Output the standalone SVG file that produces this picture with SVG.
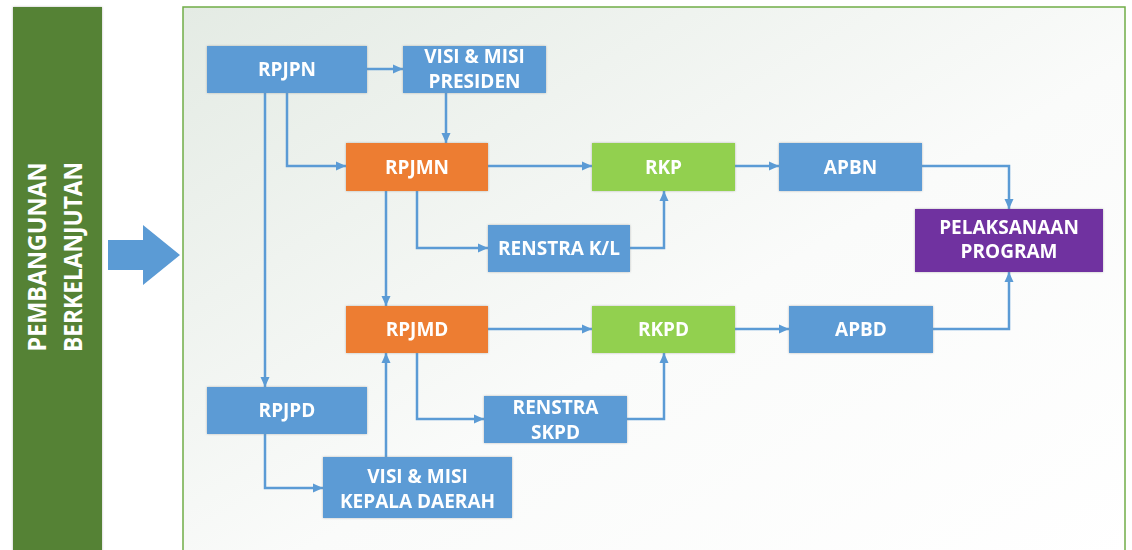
<svg xmlns="http://www.w3.org/2000/svg" width="1132" height="550" viewBox="0 0 1132 550">
  <defs>
    <linearGradient id="bg" x1="0" y1="0" x2="1" y2="1">
      <stop offset="0" stop-color="#e4ebe4"/>
      <stop offset="0.55" stop-color="#fafbfa"/>
      <stop offset="1" stop-color="#ffffff"/>
    </linearGradient>
    <filter id="sh" x="-10%" y="-20%" width="120%" height="140%">
      <feDropShadow dx="0" dy="0" stdDeviation="1.2" flood-color="#8a8a8a" flood-opacity="0.6"/>
    </filter>
    <marker id="ah" markerUnits="userSpaceOnUse" markerWidth="10" markerHeight="10" viewBox="0 0 10 10" refX="10" refY="5" orient="auto">
      <path d="M0,0.5 L10,5 L0,9.5 Z" fill="#5b9bd5"/>
    </marker>
    <style>
      .lbl { font-family: "Open Sans", "Liberation Sans", sans-serif; font-weight: bold; font-size: 19px; fill: #ffffff; text-anchor: middle; }
      .blue { fill: #5b9bd5; }
      .orange { fill: #ed7d31; }
      .green { fill: #92d050; }
      .purple { fill: #7030a0; }
      .box { filter: url(#sh); }
      .conn path { fill: none; stroke: #5b9bd5; stroke-width: 2.5; marker-end: url(#ah); }
    </style>
  </defs>

  <rect width="1132" height="550" fill="#ffffff"/>

  <g id="side-bar">
    <rect x="13" y="7" width="89" height="560" fill="#548235" filter="url(#sh)"/>
    <text class="lbl" transform="translate(46,257) rotate(-90)" textLength="189" lengthAdjust="spacingAndGlyphs" style="font-size:25px">PEMBANGUNAN</text>
    <text class="lbl" transform="translate(82,257) rotate(-90)" textLength="190" lengthAdjust="spacingAndGlyphs" style="font-size:25px">BERKELANJUTAN</text>
  </g>

  <g id="big-arrow">
    <path d="M108,240 H143 V225 L180,255 L143,285 V270 H108 Z" fill="#5b9bd5"/>
  </g>

  <g id="container">
    <rect x="183" y="7" width="942" height="560" fill="url(#bg)" stroke="#70ad47" stroke-width="1.5"/>
  </g>

  <g id="connectors" class="conn">
    <path d="M367,69 H403"/>
    <path d="M446,93 V143"/>
    <path d="M287,93 V166 H346"/>
    <path d="M265,93 V387"/>
    <path d="M488,166 H592"/>
    <path d="M735,166 H779"/>
    <path d="M922,166 H1009 V209"/>
    <path d="M417,191 V248 H488"/>
    <path d="M630,248 H664 V191"/>
    <path d="M386,191 V306"/>
    <path d="M488,329 H592"/>
    <path d="M735,329 H789"/>
    <path d="M933,329 H1009 V272"/>
    <path d="M417,353 V419 H484"/>
    <path d="M627,419 H664 V353"/>
    <path d="M265,433 V488 H323"/>
    <path d="M386,457 V353"/>
  </g>

  <g id="rpjpn" class="box">
    <rect class="blue" x="207" y="46" width="160" height="47"/>
    <text class="lbl" x="287" y="76">RPJPN</text>
  </g>
  <g id="visi-presiden" class="box">
    <rect class="blue" x="403" y="46" width="143" height="47"/>
    <text class="lbl" x="474.5" y="63">VISI &amp; MISI</text>
    <text class="lbl" x="474.5" y="88">PRESIDEN</text>
  </g>
  <g id="rpjmn" class="box">
    <rect class="orange" x="346" y="143" width="142" height="48"/>
    <text class="lbl" x="417" y="174">RPJMN</text>
  </g>
  <g id="rkp" class="box">
    <rect class="green" x="592" y="143" width="143" height="48"/>
    <text class="lbl" x="663.5" y="174">RKP</text>
  </g>
  <g id="apbn" class="box">
    <rect class="blue" x="779" y="143" width="143" height="48"/>
    <text class="lbl" x="850.5" y="174">APBN</text>
  </g>
  <g id="renstra-kl" class="box">
    <rect class="blue" x="488" y="225" width="142" height="47"/>
    <text class="lbl" x="559" y="255">RENSTRA K/L</text>
  </g>
  <g id="pelaksanaan" class="box">
    <rect class="purple" x="915" y="209" width="188" height="63"/>
    <text class="lbl" x="1009" y="234">PELAKSANAAN</text>
    <text class="lbl" x="1009" y="258">PROGRAM</text>
  </g>
  <g id="rpjmd" class="box">
    <rect class="orange" x="346" y="306" width="142" height="47"/>
    <text class="lbl" x="417" y="336">RPJMD</text>
  </g>
  <g id="rkpd" class="box">
    <rect class="green" x="592" y="306" width="143" height="47"/>
    <text class="lbl" x="663.5" y="336">RKPD</text>
  </g>
  <g id="apbd" class="box">
    <rect class="blue" x="789" y="306" width="144" height="47"/>
    <text class="lbl" x="861" y="336">APBD</text>
  </g>
  <g id="renstra-skpd" class="box">
    <rect class="blue" x="484" y="396" width="143" height="47"/>
    <text class="lbl" x="555.5" y="414">RENSTRA</text>
    <text class="lbl" x="555.5" y="439">SKPD</text>
  </g>
  <g id="rpjpd" class="box">
    <rect class="blue" x="207" y="387" width="160" height="47"/>
    <text class="lbl" x="287" y="417">RPJPD</text>
  </g>
  <g id="visi-kepala-daerah" class="box">
    <rect class="blue" x="323" y="457" width="189" height="61"/>
    <text class="lbl" x="417.5" y="483">VISI &amp; MISI</text>
    <text class="lbl" x="417.5" y="508">KEPALA DAERAH</text>
  </g>
</svg>
